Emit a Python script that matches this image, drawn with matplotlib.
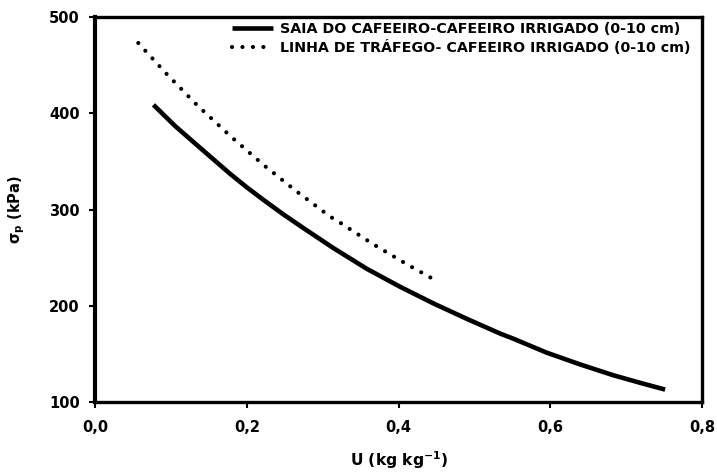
import matplotlib
matplotlib.use('Agg')
import matplotlib.pyplot as plt

plt.rcParams['font.family'] = ['DejaVu Sans']
plt.rcParams['mathtext.fontset'] = 'custom'
plt.rcParams['mathtext.rm'] = 'DejaVu Sans:bold'
plt.rcParams['mathtext.it'] = 'DejaVu Sans:bold'
plt.rcParams['mathtext.bf'] = 'DejaVu Sans:bold'

# Saia do cafeeiro (solid)
u_saia = [0.077, 0.105, 0.134, 0.156, 0.178, 0.200, 0.222, 0.248, 0.275, 0.314,
          0.358, 0.402, 0.446, 0.490, 0.534, 0.551, 0.595, 0.639, 0.683, 0.720, 0.751]
s_saia = [408.6, 387.0, 367.0, 352.0, 337.0, 323.0, 309.9, 295.0, 280.5, 260.0,
          238.5, 219.8, 202.5, 186.5, 171.2, 166.0, 151.5, 139.3, 128.0, 119.8, 113.2]

# Linha de trafego (dotted)
u_linha = [0.057, 0.0945, 0.134, 0.178, 0.222, 0.266, 0.310, 0.321, 0.366,
           0.411, 0.445]
s_linha = [472.7, 440.5, 408.6, 376.4, 346.2, 318.5, 292.5, 287.3, 264.2,
           243.1, 228.1]

labels = ['SAIA DO CAFEEIRO-CAFEEIRO IRRIGADO (0-10 cm)',
          'LINHA DE TRÁFEGO- CAFEEIRO IRRIGADO (0-10 cm)']

x_ticks = [0.0, 0.2, 0.4, 0.6, 0.8]
x_ticklabels = ['0,0', '0,2', '0,4', '0,6', '0,8']
y_ticks = [100, 200, 300, 400, 500]

fig = plt.figure(figsize=(7.17, 4.73), dpi=100)
ax = fig.add_axes([95/717, 1 - 402.3/473, (702.3 - 95)/717, (402.3 - 16.7)/473])

ax.plot(u_saia, s_saia, color='black', lw=3.3, solid_capstyle='butt', label=labels[0])
ax.plot(u_linha, s_linha, color='black', lw=3.0, linestyle=(0, (0.01, 2.5)),
        dash_capstyle='round', label=labels[1])

ax.set_xlim(0, 0.8)
ax.set_ylim(100, 500)
ax.set_xticks(x_ticks)
ax.set_xticklabels(x_ticklabels)
ax.set_yticks(y_ticks)

for s in ax.spines.values():
    s.set_linewidth(2.4)
ax.spines['left'].set_linewidth(3.0)
ax.tick_params(axis='both', direction='out', length=4, width=1.5,
               labelsize=10.5, top=False, right=False)
ax.tick_params(axis='y', pad=7)
ax.tick_params(axis='x', pad=9)
for t in ax.get_xticklabels() + ax.get_yticklabels():
    t.set_fontweight('bold')

ax.set_xlabel('U (kg kg$^{\\mathbf{-1}}$)', fontsize=11.2, fontweight='bold', labelpad=10)
ax.set_ylabel('σ$_\\mathbf{p}$ (kPa)', fontsize=10.5, fontweight='bold', labelpad=16)

leg = ax.legend(loc='upper left', bbox_to_anchor=(232/717, 1 - 22/473),
                bbox_transform=fig.transFigure, frameon=False, borderpad=0,
                borderaxespad=0, handlelength=2.9, handletextpad=0.45,
                labelspacing=0.3, prop={'size': 10.3, 'weight': 'bold'})

fig.savefig('out.png', dpi=100)
